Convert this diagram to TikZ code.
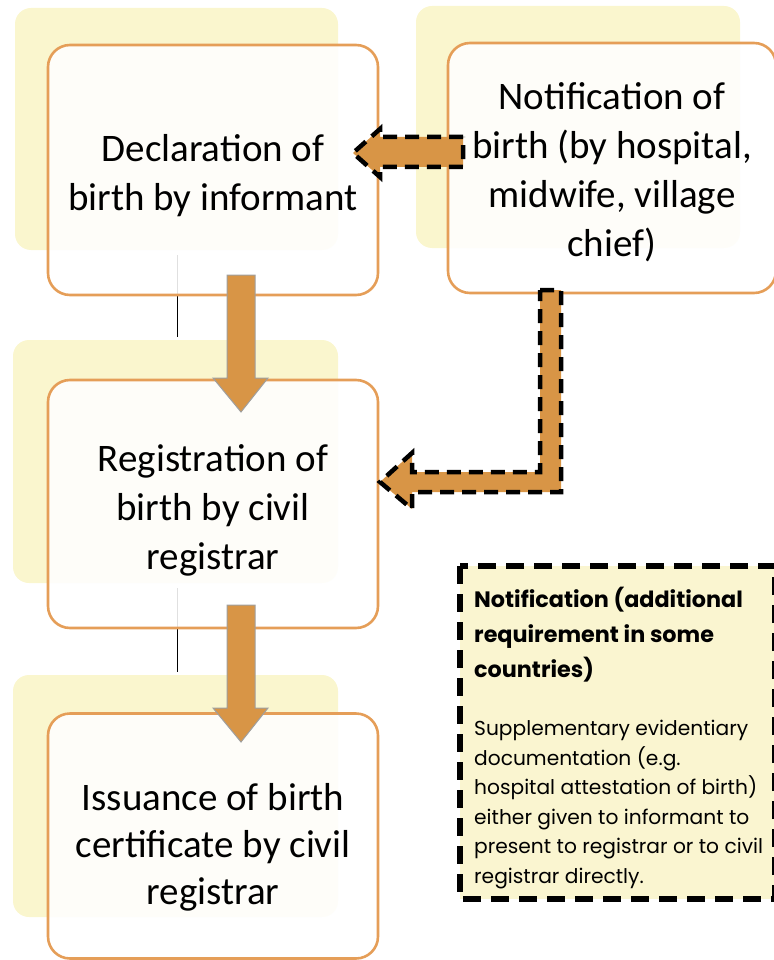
\documentclass[tikz,border=0pt]{standalone}
\usepackage{fontspec}
\setmainfont{Carlito}
\newfontfamily\notefont{Poppins}
\usetikzlibrary{calc}
\definecolor{boxborder}{RGB}{229,158,88}
\definecolor{arroworange}{RGB}{216,149,70}
\definecolor{yellowback}{RGB}{250,246,206}
\definecolor{notefill}{RGB}{250,245,208}
\tikzset{
  backbox/.style={fill=yellowback, rounded corners=16pt},
  stagebox/.style={draw=boxborder, line width=2.6pt, fill=white, fill opacity=0.88,
    rounded corners=22pt, minimum width=330pt, inner sep=0pt},
  stagetext/.style={inner sep=0pt, align=center, text=black,
    font=\fontsize{39}{49}\selectfont},
  downarrow/.style={fill=arroworange, draw=gray!75, line width=1pt},
  dasharrow/.style={fill=arroworange, draw=black, line width=4.5pt,
    dash pattern=on 14pt off 8pt, line join=miter},
  thinline/.style={draw=black, line width=1pt},
  notebox/.style={fill=notefill, draw=black, line width=6pt, dash pattern=on 18pt off 10pt},
  notetitle/.style={anchor=north west, inner sep=0pt, align=left,
    font=\notefont\bfseries\fontsize{22.3}{35}\selectfont},
  notebody/.style={anchor=north west, inner sep=0pt, align=left,
    font=\notefont\fontsize{20.2}{29.5}\selectfont}
}
\begin{document}
\begin{tikzpicture}[x=1pt,y=-1pt]
\useasboundingbox (0,0) rectangle (773,960);
% yellow backs
\fill[backbox] (15,8) rectangle (338,250);
\fill[backbox] (13,340) rectangle (338,583);
\fill[backbox] (13,675) rectangle (338,917);
\fill[backbox] (416,6) rectangle (740,248);
% thin lines
\coordinate (l1a) at (177,255); \coordinate (l1b) at (177,337);
\coordinate (l2a) at (177,588); \coordinate (l2b) at (177,672);
\draw[thinline] (l1a) -- (l1b);
\draw[thinline] (l2a) -- (l2b);
% stage boxes
\node[stagebox, minimum height=250pt] (decl) at (213,170) {};
\node[stagebox, minimum height=248pt] (reg) at (213,504) {};
\node[stagebox, minimum height=245pt] (iss) at (213,836) {};
\node[stagebox, minimum height=250pt, minimum width=328pt] (notif) at (612,168) {};
\node[stagetext] (declt) at ($(decl.center)+(0,6)$) {Declaration of\\birth by informant};
\node[stagetext] (regt) at ($(reg.center)+(0,6)$) {Registration of\\birth by civil\\registrar};
\node[stagetext, font=\fontsize{39}{47}\selectfont] (isst) at ($(iss.center)+(0,11)$) {Issuance of birth\\certificate by civil\\registrar};
\node[stagetext] (notift) at ($(notif.center)+(0,4)$) {Notification of\\birth (by hospital,\\midwife, village\\chief)};
% down arrows
\draw[downarrow] (227,275) -- (255,275) -- (255,378) -- (268,378) -- (241,412) -- (213,378) -- (227,378) -- cycle;
\draw[downarrow] (227,605) -- (255,605) -- (255,708) -- (268,708) -- (241,742) -- (213,708) -- (227,708) -- cycle;
% dashed arrows
\draw[dasharrow] (463,137) -- (380,137) -- (380,129) -- (353,153) -- (380,177) -- (380,167) -- (463,167) -- cycle;
\draw[dasharrow] (540,290) -- (561,290) -- (561,492) -- (412,492) -- (412,509) -- (380,482) -- (412,453) -- (412,472) -- (540,472) -- cycle;
% note box
\draw[notebox] (460,566) rectangle (775,899);
\node[notetitle] (ntitle) at (474,587) {Notification (additional\\requirement in some\\countries)};
\node[notebody] (nbody) at (474,720) {Supplementary evidentiary\\documentation (e.g.\\hospital attestation of birth)\\either given to informant to\\present to registrar or to civil\\registrar directly.};
\end{tikzpicture}
\end{document}
